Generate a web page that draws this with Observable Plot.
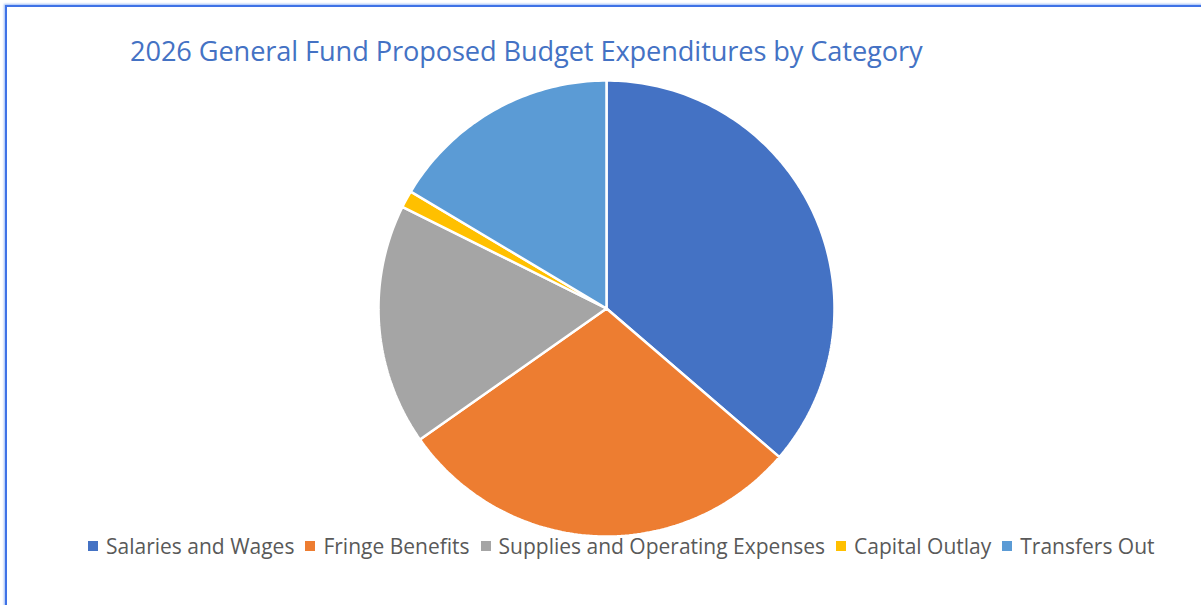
<!DOCTYPE html>
<html>
<head>
<meta charset="utf-8">
<script src="https://cdn.jsdelivr.net/npm/d3@7"></script>
<script src="https://cdn.jsdelivr.net/npm/@observablehq/plot@0.6"></script>
<style>
  html, body { margin: 0; padding: 0; background: #fff; }
  body { width: 1201px; height: 605px; position: relative; overflow: hidden; font-family: "Open Sans", "Noto Sans", sans-serif; }
  #frame { position: absolute; left: 5px; top: 5px; width: 1300px; height: 700px;
           border-left: 2px solid #3f72e6; border-top: 2px solid #3f72e6;
           box-shadow: -1px -1px 2px rgba(90,140,240,0.6); }
  #chart { position: absolute; left: 0; top: 0; }
  #title { position: absolute; left: 130px; top: 32px; font-size: 27.2px; color: #4472C4; white-space: nowrap; letter-spacing: -0.1px; }
  #legend { position: absolute; left: 88px; top: 532px; display: flex; align-items: center; font-size: 21px; color: #595959; white-space: nowrap; }
  .item { display: flex; align-items: center; margin-right: 11px; }
  .sw { width: 10px; height: 10px; margin-right: 8px; }
</style>
</head>
<body>
<div id="frame"></div>
<div id="chart"></div>
<div id="title"></div>
<div id="legend"></div>
<script>
const titleText = "2026 General Fund Proposed Budget Expenditures by Category";
const categories = ["Salaries and Wages", "Fringe Benefits", "Supplies and Operating Expenses", "Capital Outlay", "Transfers Out"];
const shares = [36.3, 28.95, 17.1, 1.22, 16.43];
const colors = ["#4472C4", "#ED7D31", "#A5A5A5", "#FFC000", "#5B9BD5"];

document.getElementById("title").textContent = titleText;

// Build slice outlines from the shares (angle 0 = 12 o'clock, clockwise)
const total = d3.sum(shares);
const pts = [];
let start = 0;
categories.forEach((name, i) => {
  const a0 = start / total * 2 * Math.PI;
  const a1 = (start + shares[i]) / total * 2 * Math.PI;
  start += shares[i];
  pts.push({name, x: 0, y: 0});
  const n = Math.max(2, Math.ceil((a1 - a0) / (Math.PI / 180)));
  for (let k = 0; k <= n; k++) {
    const a = a0 + (a1 - a0) * k / n;
    pts.push({name, x: Math.sin(a), y: Math.cos(a)});
  }
  pts.push({name, x: 0, y: 0});
});

const chart = Plot.plot({
  width: 1201,
  height: 605,
  margin: 0,
  x: {domain: [-1, 1], range: [378, 834], axis: null},
  y: {domain: [-1, 1], range: [536, 80], axis: null},
  color: {domain: categories, range: colors},
  marks: [
    Plot.line(pts, {x: "x", y: "y", z: "name", fill: "name", stroke: "white", strokeWidth: 2.5, strokeLinejoin: "miter", curve: "linear"})
  ]
});
document.getElementById("chart").appendChild(chart);

const legend = document.getElementById("legend");
categories.forEach((name, i) => {
  const it = document.createElement("div");
  it.className = "item";
  const sw = document.createElement("span");
  sw.className = "sw";
  sw.style.background = colors[i];
  const t = document.createElement("span");
  t.textContent = name;
  it.appendChild(sw); it.appendChild(t);
  legend.appendChild(it);
});
</script>
</body>
</html>
